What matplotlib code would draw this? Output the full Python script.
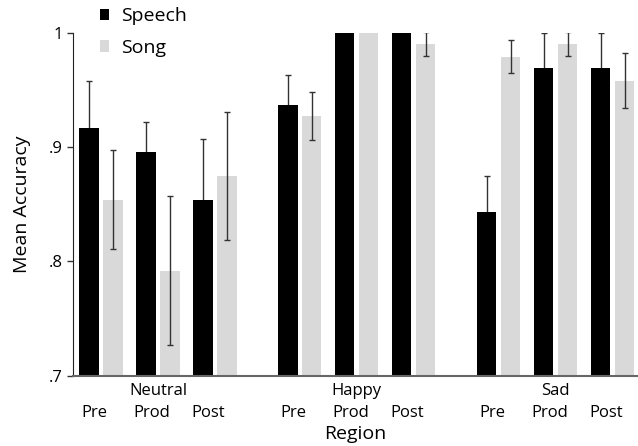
import matplotlib
matplotlib.use("Agg")
import matplotlib.pyplot as plt
import numpy as np

plt.rcParams['font.family'] = ['Open Sans', 'DejaVu Sans']

groups = ["Neutral", "Happy", "Sad"]
conditions = ["Pre", "Prod", "Post"]
speech = [0.917, 0.896, 0.854, 0.937, 1.0, 1.0, 0.843, 0.969, 0.969]
speech_err = [0.041, 0.026, 0.053, 0.026, 0.0, 0.0, 0.032, 0.031, 0.031]
song = [0.854, 0.792, 0.875, 0.927, 1.0, 0.990, 0.979, 0.990, 0.958]
song_err = [0.043, 0.065, 0.056, 0.021, 0.0, 0.0105, 0.0145, 0.0105, 0.024]

fig = plt.figure(figsize=(6.38, 4.46), dpi=100)
ax = fig.add_axes([0.114, 0.1576, 0.886, 0.7691])

gap = 85 / 57
pos = []
for g in range(3):
    for c in range(3):
        pos.append(g * (2 + gap) + c)
pos = np.array(pos)

w = 0.34
off = 12 / 57
err_kw = dict(ecolor='#333333', elinewidth=1.0, capsize=2.5, capthick=1.0)
ax.bar(pos - off, speech, w, color='black', label='Speech', zorder=2)
ax.bar(pos + off, song, w, color='#d9d9d9', label='Song', zorder=2)
for x, v, e in zip(pos - off, speech, speech_err):
    if e > 0:
        ax.errorbar(x, v, yerr=e, fmt='none', zorder=1, **err_kw)
for x, v, e in zip(pos + off, song, song_err):
    if e > 0:
        ax.errorbar(x, v, yerr=e, fmt='none', zorder=3, **err_kw)

ax.set_ylim(0.7, 1.0)
ax.set_xlim(pos[0] - 28.3 / 57, pos[-1] + 25.5 / 57)
ax.set_yticks([0.7, 0.8, 0.9, 1.0])
ax.set_yticklabels(['.7', '.8', '.9', '1'], fontsize=12)
ax.tick_params(axis='y', length=4, width=1, color='#333333', pad=3)
ax.set_xticks(pos - 0.11)
ax.set_xticklabels(conditions * 3, fontsize=12)
ax.tick_params(axis='x', length=0, pad=21)
for g in range(3):
    ax.text(pos[g * 3 + 1], -0.045, groups[g], transform=ax.get_xaxis_transform(),
            ha='center', va='center', fontsize=12)

ax.spines['top'].set_visible(False)
ax.spines['right'].set_visible(False)
ax.spines['left'].set_color('#222222')
ax.spines['bottom'].set_color('#666666')
ax.spines['bottom'].set_linewidth(1.5)

ax.set_xlabel('Region', fontsize=14, labelpad=3)
ax.set_ylabel('Mean Accuracy', fontsize=14, labelpad=13)

ax.legend(loc='upper left', bbox_to_anchor=(0.018, 1.125), frameon=False, fontsize=14,
          handlelength=0.45, handleheight=0.5, handletextpad=0.6, labelspacing=0.7)

fig.savefig('out.png', dpi=100)
